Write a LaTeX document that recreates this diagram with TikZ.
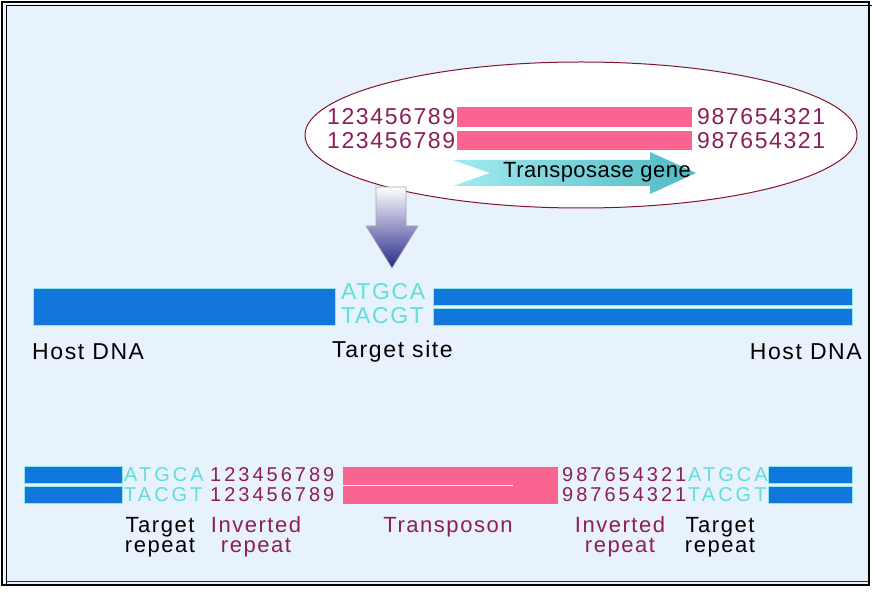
\documentclass[tikz,border=0pt]{standalone}
\usepackage{fontspec}
\setmainfont{Liberation Sans}[LetterSpace=7]
\newfontfamily\rowfont{Liberation Sans}[LetterSpace=15]
\newfontfamily\genefont{Liberation Sans}[LetterSpace=2]
\usetikzlibrary{shapes.geometric}
\definecolor{bg}{RGB}{232,242,252}
\definecolor{dnablue}{RGB}{17,119,221}
\definecolor{pinkbar}{RGB}{250,100,145}
\definecolor{seqcyan}{RGB}{95,222,222}
\definecolor{irmag}{RGB}{140,30,90}
\definecolor{ellred}{RGB}{130,20,50}
\definecolor{arrowblue}{RGB}{40,40,140}
\definecolor{tealL}{RGB}{160,235,240}
\definecolor{tealR}{RGB}{80,185,195}
\begin{document}
\begin{tikzpicture}[x=1pt,y=-1pt,
  txt/.style={inner sep=0pt, font=\fontsize{23}{23}\selectfont},
  rowtxt/.style={inner sep=0pt, anchor=west, font=\rowfont\fontsize{20}{20}\selectfont},
  seqtxt/.style={txt, text=seqcyan, anchor=west},
  digtxt/.style={txt, text=irmag, anchor=west},
  lbl/.style={txt, text=black, anchor=west},
  lbl2/.style={inner sep=0pt, align=center, font=\fontsize{22}{20}\selectfont},
  bluebar/.style={fill=dnablue, draw=seqcyan!70, line width=0.6pt, inner sep=0pt, outer sep=0pt, anchor=north west},
  pinkbox/.style={fill=pinkbar, draw=none, inner sep=0pt, outer sep=0pt, anchor=north west}]
\useasboundingbox (0,0) rectangle (875,593);
% background and frame
\fill[bg] (4,4) rectangle (869,584);
\draw[line width=1.6pt] (2,2) rectangle (869,585);
\draw[line width=1pt] (6,585) -- (6,6) -- (872,6);
\draw[red!60!black, line width=1.2pt] (6,581.5) -- (868,581.5);
% inset ellipse
\node[ellipse, draw=ellred, fill=white, line width=1pt, minimum width=552, minimum height=146, inner sep=0pt] (elp) at (581,135) {};
\node[digtxt] (d1a) at (327,117) {123456789};
\node[digtxt] (d1b) at (327,141) {123456789};
\node[pinkbox, minimum width=235, minimum height=20] (p1a) at (457,107) {};
\node[pinkbox, minimum width=235, minimum height=19] (p1b) at (457,131) {};
\node[digtxt] (r1a) at (697,117) {987654321};
\node[digtxt] (r1b) at (697,141) {987654321};
\shade[left color=tealL, right color=tealR] (453,160) -- (650,160) -- (650,152) -- (696,173) -- (650,194) -- (650,186) -- (453,186) -- (490,173) -- cycle;
\node[inner sep=0pt, anchor=west, font=\genefont\fontsize{22}{22}\selectfont] (tg) at (503,172) {Transposase gene};
% down arrow
\shade[top color=white, bottom color=arrowblue, draw=gray!70, line width=0.6pt] (376,187) -- (406,187) -- (406,226) -- (418,226) -- (392,268) -- (366,226) -- (376,226) -- cycle;
% host DNA
\node[bluebar, minimum width=302, minimum height=37] (hostL) at (33,288) {};
\node[bluebar, minimum width=419, minimum height=17] (hostRa) at (433,288) {};
\node[bluebar, minimum width=419, minimum height=17] (hostRb) at (433,308.5) {};
\node[seqtxt] (tsA) at (341,292) {ATGCA};
\node[seqtxt] (tsB) at (341,316) {TACGT};
\node[lbl] (hdl) at (32,352) {Host DNA};
\node[lbl] (tsl) at (332,352) {Target site};
\node[lbl, anchor=east] (hdr) at (862,352) {Host DNA};
% bottom row
\node[bluebar, minimum width=98, minimum height=17] (bLa) at (24,466) {};
\node[bluebar, minimum width=98, minimum height=17] (bLb) at (24,486) {};
\node[rowtxt, text=seqcyan] (tlA) at (124,474.5) {ATGCA};
\node[rowtxt, text=seqcyan] (tlB) at (124,494.5) {TACGT};
\node[rowtxt, text=irmag] (ilA) at (210,474.5) {123456789};
\node[rowtxt, text=irmag] (ilB) at (210,494.5) {123456789};
\node[pinkbox, minimum width=215, minimum height=37] (tpn) at (343,467) {};
\draw[white, line width=1.2pt] (343,485.5) -- (513,485.5);
\node[rowtxt, text=irmag] (irA) at (562,474.5) {987654321};
\node[rowtxt, text=irmag] (irB) at (562,494.5) {987654321};
\node[rowtxt, text=seqcyan] (trA) at (688,474.5) {ATGCA};
\node[rowtxt, text=seqcyan] (trB) at (688,494.5) {TACGT};
\node[bluebar, minimum width=84, minimum height=17] (bRa) at (768,466) {};
\node[bluebar, minimum width=84, minimum height=17] (bRb) at (768,486) {};
% labels
\node[lbl2, text=black] (l1) at (160,537) {Target\\repeat};
\node[lbl2, text=irmag] (l2) at (256,537) {Inverted\\repeat};
\node[lbl2, text=irmag] (l3) at (448,527) {Transposon};
\node[lbl2, text=irmag] (l4) at (620,537) {Inverted\\repeat};
\node[lbl2, text=black] (l5) at (720,537) {Target\\repeat};
\end{tikzpicture}
\end{document}
